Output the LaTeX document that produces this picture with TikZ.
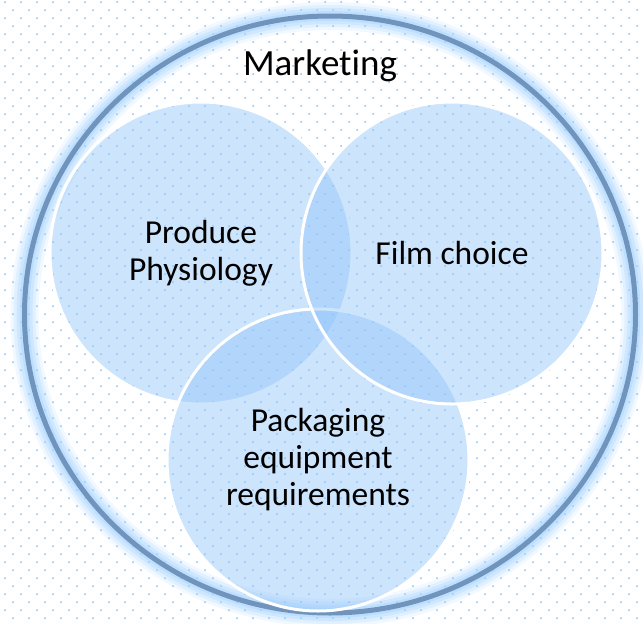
\documentclass[tikz,border=0pt]{standalone}
\usepackage{fontspec}
\setmainfont{Carlito}[Ligatures=NoCommon]
\usetikzlibrary{positioning}
\definecolor{ringblue}{RGB}{112,148,188}
\definecolor{haloblue}{RGB}{165,213,255}
\definecolor{dotblue}{RGB}{135,192,248}
\definecolor{discblue}{RGB}{148,198,250}

\begin{document}
\begin{tikzpicture}[x=1pt, y=-1pt]
        \tikzset{ area/.style ={circle, draw=white, line width=3pt, fill=discblue, fill opacity=0.47, text opacity=1, text=black, minimum size=302pt, inner sep=0pt, align=center, font=\fontsize{33.5}{37}\selectfont} }
        \tikzset{ ttl/.style  ={text=black, font=\fontsize{37}{42}\selectfont} }

        \fill[white] (0,0) rectangle (643,624);
        \useasboundingbox (0,0) rectangle (643,624);

        % dotted paper
        \foreach \row in {0,...,77} {
          \pgfmathsetmacro{\dx}{mod(\row,2)==0 ? 5 : 13}
          \foreach \col in {0,...,39}
            \fill[dotblue] (\dx+16*\col, 2+8*\row) circle (1pt);
        }

        % outer ring with soft halo
        \foreach \w/\o in {28/0.15, 22/0.22, 16/0.3, 10/0.4}
          \draw[haloblue, line width=\w pt, opacity=\o] (330,314.5) ellipse [x radius=305.5pt, y radius=298.5pt];
        \draw[ringblue, line width=5pt] (330,314.5) ellipse [x radius=305.5pt, y radius=298.5pt];

        \node[ttl ] (mkt)  at (320, 66) {Marketing};

        \node[area] (prod) at (201,253) {Produce\\Physiology};
        \node[area] (pack) at (318,460) {Packaging\\equipment\\requirements};
        \node[area] (film) at (452,253) {Film choice};
      \end{tikzpicture}
\end{document}
